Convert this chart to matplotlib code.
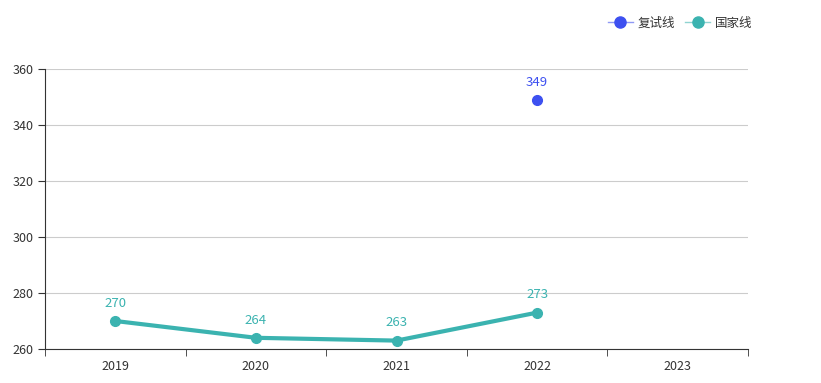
import matplotlib.pyplot as plt
import numpy as np
from matplotlib.lines import Line2D

years = ["2019", "2020", "2021", "2022", "2023"]
retest_line = [None, None, None, 349, None]
national_line = [270, 264, 263, 273, None]
y_ticks = [260, 280, 300, 320, 340, 360]

blue = "#3d50f0"
teal = "#3bb3b0"

plt.rcParams['font.family'] = ['Noto Sans CJK SC', 'DejaVu Sans']

fig = plt.figure(figsize=(8.21, 3.83), dpi=100)
ax = fig.add_axes([45 / 821, 34 / 383, 703 / 821, 280 / 383])

x = np.arange(len(years))

# national line
nx = [i for i, v in zip(x, national_line) if v is not None]
ny = [v for v in national_line if v is not None]
ax.plot(nx, ny, color=teal, lw=3, marker="o", ms=7, zorder=3)
for i, v in zip(nx, ny):
    ax.text(i, v + 4, str(v), color=teal, ha="center", va="bottom", fontsize=9.5)

# retest line
rx = [i for i, v in zip(x, retest_line) if v is not None]
ry = [v for v in retest_line if v is not None]
ax.plot(rx, ry, color=blue, lw=2, marker="o", ms=7, zorder=3)
for i, v in zip(rx, ry):
    ax.text(i, v + 4, str(v), color=blue, ha="center", va="bottom", fontsize=9.5)

ax.set_xlim(-0.5, len(years) - 0.5)
ax.set_ylim(260, 360)
ax.set_yticks(y_ticks)
ax.grid(axis="y", color="#cccccc", lw=0.8)
ax.set_axisbelow(True)

ax.set_xticks(x)
ax.set_xticklabels(years)
ax.set_xticks(np.arange(-0.5, len(years)), minor=True)
ax.tick_params(axis="x", which="major", length=0, pad=8, labelsize=9, colors="#333333")
ax.tick_params(axis="x", which="minor", length=5, color="#333333")
ax.tick_params(axis="y", length=5, labelsize=9, colors="#333333", pad=3)

for s in ["top", "right"]:
    ax.spines[s].set_visible(False)
ax.spines["left"].set_color("#333333")
ax.spines["bottom"].set_color("#333333")

# legend
handles = [
    Line2D([], [], color="#8f99f5", lw=1, marker="o", ms=8,
           markerfacecolor=blue, markeredgecolor=blue),
    Line2D([], [], color="#8fd3d1", lw=1, marker="o", ms=8,
           markerfacecolor=teal, markeredgecolor=teal),
]
fig.legend(handles, ["复试线", "国家线"], loc="center right",
           bbox_to_anchor=(764 / 821, 1 - 23 / 383), ncol=2, frameon=False,
           fontsize=9, handlelength=2, handletextpad=0.4, columnspacing=0.8,
           labelcolor="#333333")

fig.savefig("out.png", dpi=100)
